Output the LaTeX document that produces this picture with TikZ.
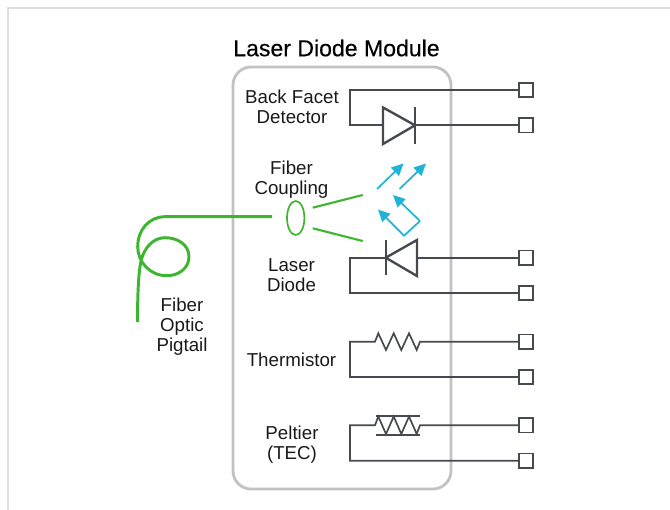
\documentclass[tikz,border=0pt]{standalone}
\usepackage{fontspec}
\setmainfont{Liberation Sans}
\newfontfamily\titlefont[FakeBold=0.35]{Liberation Sans}
\usetikzlibrary{shapes.geometric, arrows.meta, positioning}
\definecolor{wiregray}{HTML}{464A50}
\definecolor{boxgray}{HTML}{C2C2C2}
\definecolor{framegray}{HTML}{DEDEDE}
\definecolor{fibergreen}{HTML}{3DB52F}
\definecolor{lightblue}{HTML}{1FB4D6}
\tikzstyle{wire} = [line width=1.2pt, draw=wiregray, line join=miter]
\tikzstyle{part} = [line width=1.7pt, draw=wiregray, line join=miter]
\tikzstyle{terminal} = [rectangle, draw=wiregray, line width=1.2pt, fill=white, minimum size=10.4pt, inner sep=0pt]
\tikzstyle{fiber} = [line width=1.5pt, draw=fibergreen]
\tikzstyle{fiberthick} = [line width=2.1pt, draw=fibergreen]
\tikzstyle{light} = [line width=1.2pt, draw=lightblue, -{Triangle[length=8.5pt,width=8pt]}]
\tikzstyle{label} = [align=center, inner sep=0pt, text=black!90, font=\fontsize{13.3}{14.2}\selectfont]

\begin{document}
\begin{tikzpicture}[x=0.025cm, y=-0.025cm]
        \useasboundingbox (0,0) rectangle (670,510);
        \draw[line width=1.1pt, draw=framegray] (8,510) -- (8,8) -- (670,8);
        % module outline
        \node[draw=boxgray, line width=2pt, rounded corners=13pt, minimum width=218*0.71132pt, minimum height=422*0.71132pt, inner sep=0pt] (module) at (342,278) {};
        \node[inner sep=0pt, text=black, font=\titlefont\fontsize{16.4}{18}\selectfont] (title) at (336.5,48) {Laser Diode Module};

        \node[terminal] (t1) at (526,90) {};
        \node[terminal] (t2) at (526,125.3) {};
        \node[terminal] (t3) at (526,257.7) {};
        \node[terminal] (t4) at (526,293) {};
        \node[terminal] (t5) at (526,341.7) {};
        \node[terminal] (t6) at (526,377) {};
        \node[terminal] (t7) at (526,425.3) {};
        \node[terminal] (t8) at (526,460.7) {};

        \node[label] (detector) at (292,107) {Back Facet\\Detector};
        \node[label] (coupling) at (291.5,180) {Fiber\\Coupling};
        \node[label] (laser) at (291.5,275) {Laser\\Diode};
        \node[label] (thermistor) at (291.5,360) {Thermistor};
        \node[label] (peltier) at (292,445) {Peltier\\(TEC)};
        \node[label] (pigtail) at (182,327) {Fiber\\Optic\\Pigtail};

        % back facet detector
        \coordinate (da) at (383,125.3);
        \coordinate (dk) at (415,125.3);
        \draw[wire] (t1.west) -- (350,90) |- (da);
        \draw[wire] (t2.west) -- (dk);
        \draw[part] (da) -- (383,107.5) -- (dk) -- (383,144) -- cycle;
        \draw[wire] (415,107.5) -- (415,144);

        % laser diode
        \coordinate (la) at (417,257.7);
        \coordinate (lk) at (385.7,257.7);
        \draw[wire] (t3.west) -- (la);
        \draw[wire] (lk) -- (350,257.7) |- (t4.west);
        \draw[part] (la) -- (417,240) -- (lk) -- (417,276) -- cycle;
        \draw[wire] (385.7,240) -- (385.7,275.5);

        % thermistor
        \coordinate (ra) at (420,341.7);
        \coordinate (rb) at (375,341.7);
        \draw[wire] (t5.west) -- (ra) -- (416.7,350) -- (409,333.3) -- (401.3,350) -- (393.7,333.3) -- (386,350) -- (378.3,333.3) -- (rb) -- (350,341.7) |- (t6.west);

        % peltier
        \coordinate (pa) at (420,425.3);
        \coordinate (pb) at (375,425.3);
        \draw[wire] (t7.west) -- (pa) -- (416.7,434) -- (409,416.5) -- (401.3,434) -- (393.7,416.5) -- (386,434) -- (378.3,416.5) -- (pb) -- (350,425.3) |- (t8.west);
        \draw[wire] (375.7,416) -- (420,416);
        \draw[wire] (375.7,434.7) -- (420,434.7);

        % coupling
        \node[ellipse, draw=fibergreen, line width=1.2pt, minimum width=17.4*0.71132pt, minimum height=34*0.71132pt, inner sep=0pt] (lens) at (295.7,218) {};
        \coordinate (fa) at (312.7,207.7);
        \coordinate (fb) at (362.7,195);
        \coordinate (fc) at (312.7,228.3);
        \coordinate (fd) at (362.7,241);
        \draw[fiber] (fa) -- (fb);
        \draw[fiber] (fc) -- (fd);

        % pigtail
        \coordinate (fs) at (272,216.7);
        \coordinate (fe) at (137.5,322);
        \draw[fiberthick] (fs) -- (165,216.7) .. controls (149,216.7) and (137.7,230) .. (137.7,246.7) .. controls (137.7,262) and (150,275.7) .. (166.7,275.7) .. controls (179,275.7) and (189,268) .. (189,256.7) .. controls (189,245) and (178,237.7) .. (165,237.7) .. controls (153,237.7) and (144,248) .. (141,261) .. controls (138.5,272) and (137.5,295) .. (fe);

        % emitted light
        \coordinate (b1) at (377,189);
        \coordinate (b2) at (403.5,163.5);
        \coordinate (b3) at (399.5,189);
        \coordinate (b4) at (426,163.5);
        \coordinate (b5) at (420,221);
        \coordinate (b6) at (393,195);
        \coordinate (b7) at (404,235.7);
        \coordinate (b8) at (378,209.5);
        \draw[light] (b1) -- (b2);
        \draw[light] (b3) -- (b4);
        \draw[light] (b5) -- (b6);
        \draw[light, line join=miter] (b5) -- (b7) -- (b8);
    \end{tikzpicture}
\end{document}
